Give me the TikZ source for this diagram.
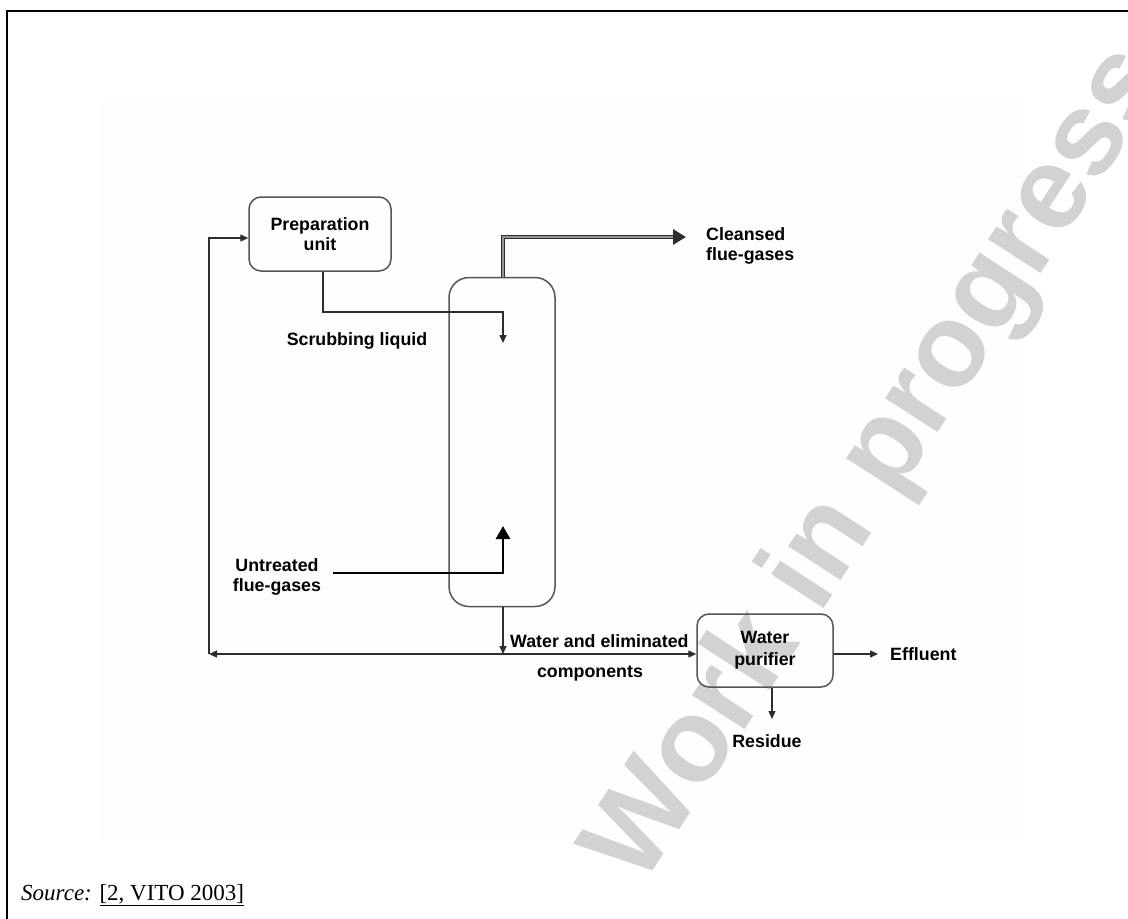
\documentclass[tikz,border=0pt]{standalone}
\usepackage{fontspec}
\setmainfont{Liberation Serif}
\newfontfamily\diafont{Liberation Sans}
\usetikzlibrary{arrows.meta}
\definecolor{wm}{RGB}{210,210,210}
\definecolor{bgw}{RGB}{254,254,254}
\definecolor{ln}{RGB}{45,45,45}
\definecolor{bx}{RGB}{85,85,85}
\definecolor{clin}{RGB}{150,150,150}
\newcommand\dlbl{\diafont\bfseries\fontsize{17.8}{20}\selectfont}
\begin{document}
\begin{tikzpicture}[x=1pt,y=-1pt,
  box/.style={draw=bx, line width=1.5pt, rounded corners=12pt, inner sep=0pt, align=center, font=\dlbl},
  lbl/.style={inner sep=0pt, font=\dlbl},
  thinarr/.style={draw=ln, line width=1.4pt, -{Triangle[length=8pt,width=7pt]}},
  bothArr/.style={draw=ln, line width=1.4pt, {Triangle[length=8pt,width=7pt]}-{Triangle[length=8pt,width=7pt]}},
  gasOut/.style={draw=ln, line width=4.5pt, -{Triangle[length=13pt,width=15pt]}},
  gasOutIn/.style={draw=clin, line width=1.5pt},
  gasIn/.style={draw=black, line width=2.8pt, -{Triangle[length=13pt,width=14pt]}},
  watermark/.style={text=wm, inner sep=0pt, font={\diafont\bfseries\fontsize{118}{118}\selectfont}}
]
\path[use as bounding box] (0,0) rectangle (1128,919);
\fill[bgw] (100,100) rectangle (1025,842);
\node[watermark, rotate=57] (wmk) at (880,466) {Work in progress};
\draw[line width=2.5pt] (1128,11) -- (7,11) -- (7,919);

% boxes
\node[box, minimum width=142pt, minimum height=74pt] (prep) at (320,234) {Preparation\\unit};
\node[box, rounded corners=20pt, minimum width=106pt, minimum height=329pt] (col) at (502,442) {};
\node[box, minimum width=136pt, minimum height=73pt, font={\diafont\bfseries\fontsize{17.8}{22}\selectfont}] (wp) at (765,650.5) {Water\\purifier};

% labels
\node[lbl, anchor=base] (scrubL) at (357,345) {Scrubbing liquid};
\node[lbl, anchor=west, align=left] (cleanL) at (706,246) {Cleansed\\flue-gases};
\node[lbl, align=center] (untrL) at (277,577) {Untreated\\flue-gases};
\node[lbl, anchor=base west] (waterL) at (510,647) {Water and eliminated};
\node[lbl, anchor=base] (compL) at (590,677) {components};
\node[lbl, anchor=base west] (effL) at (890,660) {Effluent};
\node[lbl, anchor=base] (resL) at (767,747) {Residue};
\node[anchor=base west, inner sep=0pt, font=\fontsize{23}{27}\selectfont] (src) at (21,900) {\textit{Source:} \underline{[2, VITO 2003]}};

% coordinates
\coordinate (sIn) at (503,343);
\coordinate (clEnd) at (686,237);
\coordinate (uStart) at (333,573);
\coordinate (uEnd) at (503,526);
\coordinate (j) at (503,654);
\coordinate (fb) at (209,654);
\coordinate (effEnd) at (878,654);
\coordinate (resEnd) at (772,719);

% connectors
\draw[thinarr] ([xshift=3pt]prep.south) |- ([yshift=31pt]sIn) -- (sIn);
\draw[gasOut] ([xshift=1pt]col.north) |- (clEnd);
\draw[gasOutIn] ([xshift=1pt]col.north) |- ([xshift=-13pt]clEnd);
\draw[gasIn] (uStart) -| (uEnd);
\draw[thinarr] (col.south -| j) -- (j);
\draw[bothArr] (fb) -- (j -| wp.west);
\draw[thinarr] (fb) |- ([yshift=-4pt]prep.west);
\draw[thinarr] (j -| wp.east) -- (effEnd);
\draw[thinarr] (wp.south -| resEnd) -- (resEnd);
\end{tikzpicture}
\end{document}
